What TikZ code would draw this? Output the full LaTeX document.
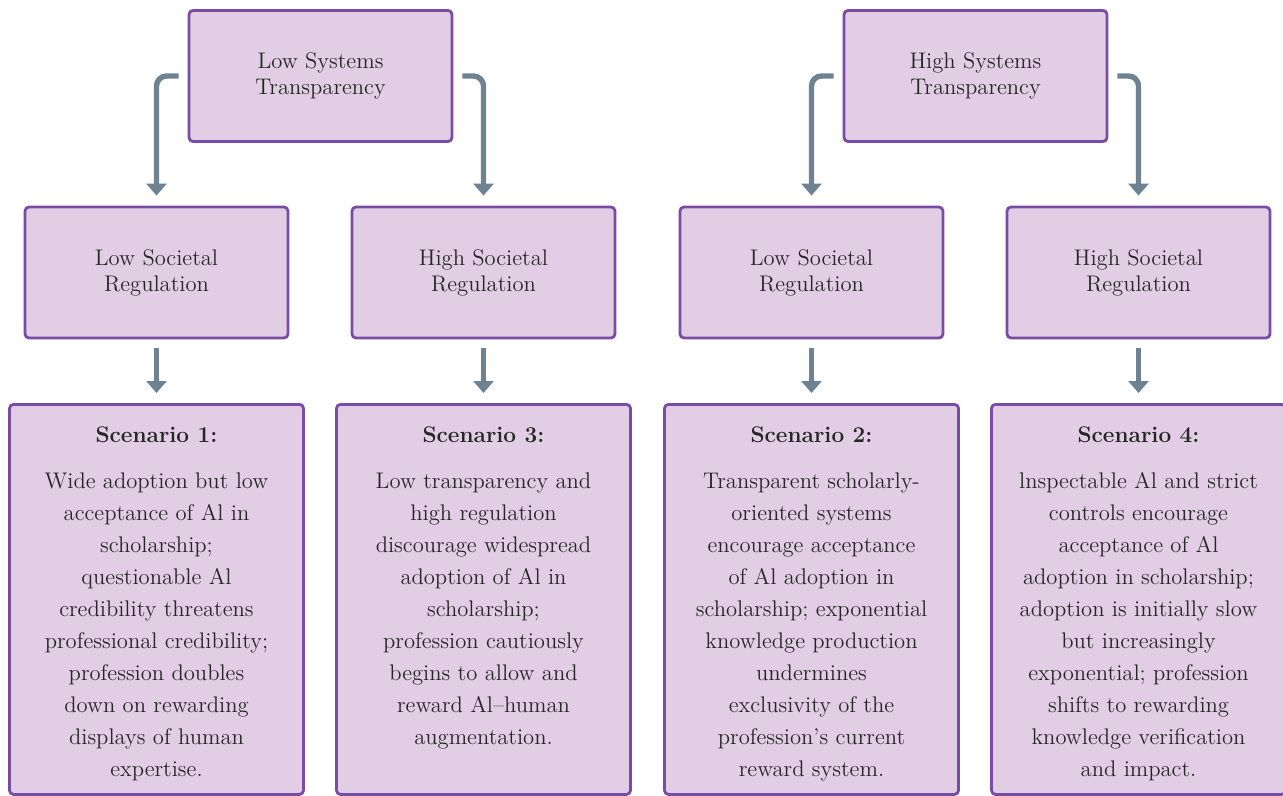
\documentclass[tikz,border=0pt]{standalone}
\usepackage{amsmath}
\usepackage{tikz}
\usetikzlibrary{arrows.meta}

\definecolor{boxfill}{RGB}{225,206,228}
\definecolor{boxline}{RGB}{122,76,166}
\definecolor{arrowgrey}{RGB}{111,130,145}
\definecolor{textgrey}{RGB}{38,38,38}

\tikzset{
  headbox/.style={draw=boxline, fill=boxfill, line width=1.4pt, rounded corners=2pt,
    minimum width=131.5pt, minimum height=65.5pt, align=center, text=textgrey,
    font=\fontsize{11.3}{13}\selectfont},
  scenbox/.style={draw=boxline, fill=boxfill, line width=1.4pt, rounded corners=2pt,
    anchor=north, inner sep=0pt, text=textgrey, font=\fontsize{11.3}{16}\selectfont},
  conn/.style={draw=arrowgrey, line width=2.7pt, -{Triangle[width=10pt,length=6pt]},
    rounded corners=5pt, shorten <=4.5pt, shorten >=5pt}
}
\newcommand{\scentext}[2]{\begin{minipage}[t][195pt][t]{147pt}\centering
  \rule{0pt}{19pt}\textbf{#1}\\[7pt]#2\end{minipage}}

\begin{document}
\begin{tikzpicture}[x=0.5pt,y=0.5pt]
    \useasboundingbox (0,0) rectangle (1283,-796);
    % transparency level
    \node[headbox] (lowsys) at (320.5,-76) {Low Systems\\Transparency};
    \node[headbox] (highsys) at (975.5,-76) {High Systems\\Transparency};
    % regulation level
    \node[headbox] (reg1) at (156.5,-272.5) {Low Societal\\Regulation};
    \node[headbox] (reg2) at (483.5,-272.5) {High Societal\\Regulation};
    \node[headbox] (reg3) at (811.5,-272.5) {Low Societal\\Regulation};
    \node[headbox] (reg4) at (1138.5,-272.5) {High Societal\\Regulation};
    % scenarios
    \node[scenbox] (scen1) at (156.5,-403) {\scentext{Scenario 1:}{Wide adoption but low\\
      acceptance of Al in\\ scholarship;\\ questionable Al\\ credibility threatens\\
      professional credibility;\\ profession doubles\\ down on rewarding\\
      displays of human\\ expertise.}};
    \node[scenbox] (scen2) at (483.5,-403) {\scentext{Scenario 3:}{Low transparency and\\
      high regulation\\ discourage widespread\\ adoption of Al in\\ scholarship;\\
      profession cautiously\\ begins to allow and\\ reward Al--human\\ augmentation.}};
    \node[scenbox] (scen3) at (811.5,-403) {\scentext{Scenario 2:}{Transparent scholarly-\\
      oriented systems\\ encourage acceptance\\ of Al adoption in\\ scholarship; exponential\\
      knowledge production\\ undermines\\ exclusivity of the\\ profession’s current\\
      reward system.}};
    \node[scenbox] (scen4) at (1138.5,-403) {\scentext{Scenario 4:}{lnspectable Al and strict\\
      controls encourage\\ acceptance of Al\\ adoption in scholarship;\\
      adoption is initially slow\\ but increasingly\\ exponential; profession\\
      shifts to rewarding\\ knowledge verification\\ and impact.}};
    % connectors
    \draw[conn] (lowsys.west) -| (reg1.north);
    \draw[conn] (lowsys.east) -| (reg2.north);
    \draw[conn] (highsys.west) -| (reg3.north);
    \draw[conn] (highsys.east) -| (reg4.north);
    \foreach \i in {1,...,4}
    \draw[conn] (reg\i.south) -- (scen\i.north);
\end{tikzpicture}
\end{document}
